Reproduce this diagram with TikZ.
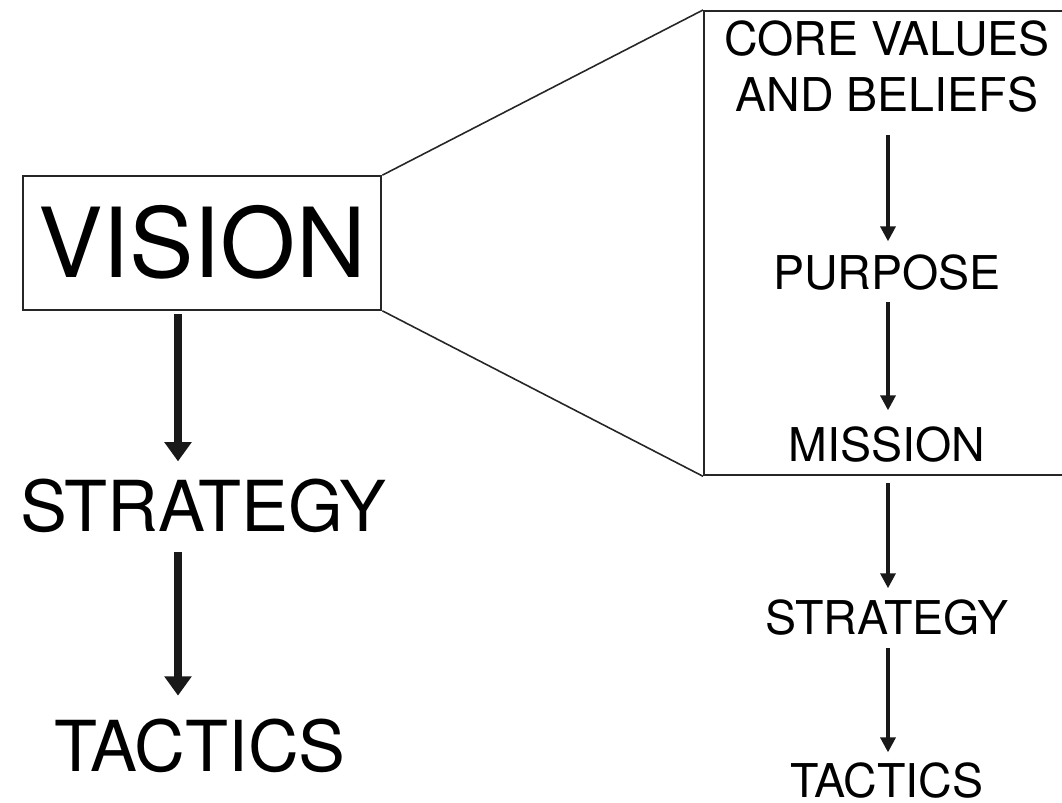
\documentclass[tikz,border=0pt]{standalone}
\usepackage{fontspec}
\setmainfont{TeX Gyre Heros}
\usetikzlibrary{arrows.meta, positioning}

\begin{document}
\begin{tikzpicture}[
        x=0.02cm, y=-0.02cm,
        frame/.style={rectangle, draw=black!85, line width=1.2pt, inner sep=0pt},
        bigword/.style={inner sep=0pt, font=\fontsize{40}{48}\selectfont, text height=28.7pt, text depth=0pt},
        rightword/.style={inner sep=0pt, font=\fontsize{26.5}{31.8}\selectfont, align=center},
        capline/.style={text height=19pt, text depth=0pt},
        bigarrow/.style={-{Triangle[width=15pt, length=11pt]}, line width=4.5pt, color=black!90},
        smallarrow/.style={-{Triangle[width=8.5pt, length=8.5pt]}, line width=2pt, color=black!90},
        zoomline/.style={draw=black!85, line width=0.9pt}
    ]

    % Picture frame
    \clip (0,0) rectangle (1062,803);

    % Left column
    \node[frame, minimum width=204.1pt, minimum height=76pt, font=\fontsize{55}{66}\selectfont, text height=39.5pt, text depth=0pt] (vision) at (202,243) {VISION};
    \node[bigword, anchor=base] (strategy) at (203,532) {STRATEGY};
    \node[bigword, anchor=base] (tactics) at (200,771) {TACTICS};

    % Zoomed box on the right
    \node[frame, anchor=north west, minimum width=240pt, minimum height=264.2pt] (zoombox) at (703,10) {};

    % Right column
    \node[rightword, anchor=south] (values) at (887,113) {CORE VALUES\\AND BELIEFS};
    \node[rightword, capline, anchor=base] (purpose) at (887,290) {PURPOSE};
    \node[rightword, capline, anchor=base] (mission) at (887,462) {MISSION};
    \node[rightword, capline, anchor=base] (strategy_r) at (887,635) {STRATEGY};
    \node[rightword, capline, anchor=base] (tactics_r) at (887,797) {TACTICS};

    % Arrow axes
    \coordinate (leftaxis) at (178,0);
    \coordinate (rightaxis) at (888,0);

    % Zoom lines
    \draw[zoomline] (vision.north east) -- (zoombox.north west);
    \draw[zoomline] (vision.south east) -- (zoombox.south west);

    % Left flow
    \draw[bigarrow, shorten <=1.7pt, shorten >=11.3pt] (vision.south -| leftaxis) -- (strategy.north -| leftaxis);
    \draw[bigarrow, shorten <=11.3pt, shorten >=14pt] (strategy.south -| leftaxis) -- (tactics.north -| leftaxis);

    % Right flow
    \draw[smallarrow, shorten <=12.5pt, shorten >=8.5pt] (values.south -| rightaxis) -- (purpose.north -| rightaxis);
    \draw[smallarrow, shorten <=6.8pt, shorten >=10.2pt] (purpose.south -| rightaxis) -- (mission.north -| rightaxis);
    \draw[smallarrow, shorten <=11.9pt, shorten >=7.4pt] (mission.south -| rightaxis) -- (strategy_r.north -| rightaxis);
    \draw[smallarrow, shorten <=7.4pt, shorten >=6.2pt] (strategy_r.south -| rightaxis) -- (tactics_r.north -| rightaxis);

\end{tikzpicture}
\end{document}
